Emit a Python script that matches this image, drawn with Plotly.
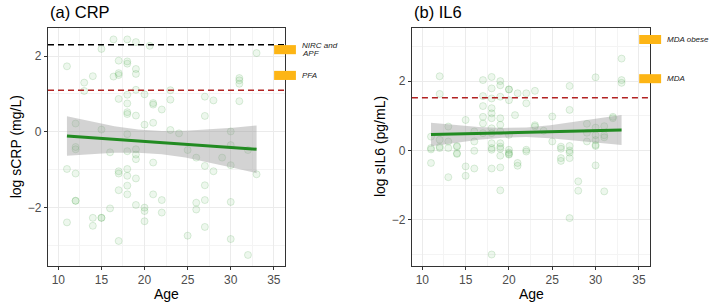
import plotly.graph_objects as go

# ---------------- data ----------------
crp_age = [11, 11, 11,
           12, 12, 12, 12, 12, 12,
           13, 13,
           14, 14, 14,
           15, 15, 15, 15,
           16, 16,
           16.4, 16.4,
           17, 17, 17, 17, 17, 17, 17, 17,
           18, 18, 18, 18, 18, 18, 18, 18, 18, 18, 18, 18, 18,
           19, 19, 19, 19, 19, 19, 19, 19, 19, 19,
           20, 20, 20, 20, 20,
           20.6,
           21, 21, 21, 21, 21,
           22, 22, 22,
           23, 23, 23,
           24,
           25, 25,
           26, 26, 26,
           27, 27, 27, 27, 27, 27,
           28, 28,
           29,
           30, 30, 30, 30, 30,
           31, 31, 31, 31,
           32, 32,
           33, 33]
crp_val = [1.73, -0.98, -2.39,
           0.22, -0.40, -0.46, -1.10, -1.82, -1.82,
           1.30, 1.08,
           1.47, -2.27, -2.48,
           2.19, 0.06, -2.27, -2.27,
           -0.54, -2.02,
           2.44, 1.46,
           1.88, 1.55, 1.50, 0.87, -1.04, -1.10, -1.54, -2.88,
           2.44, 1.86, 1.80, 0.98, 0.75, 0.52, 0.47, -0.06, -0.51, -0.98, -1.16, -1.42, -1.65,
           2.37, 1.66, 1.53, 1.11, 0.43, -0.46, -0.60, -0.72, -1.23, -1.93,
           0.99, 0.19, -2.00, -2.09, -2.36,
           2.27,
           0.76, 0.72, 0.24, -0.81, -1.65,
           0.59, -1.80, -2.13,
           1.10, 0.85, 0.05,
           -0.04,
           -0.48, -2.74,
           -0.68, -1.87, -2.05,
           0.93, 0.42, -0.90, -1.41, -1.80, -2.51,
           0.83, -1.04,
           -0.68,
           0.01, -0.35, -0.88, -1.85, -2.83,
           1.42, 1.36, 1.27, 0.81,
           -0.48, -3.25,
           2.08, -1.12]

il6_age = [11, 11, 11, 11,
           12, 12, 12, 12, 12,
           13, 13, 13, 13,
           14, 14, 14, 14,
           15, 15, 15,
           16, 16, 16, 16,
           17, 17, 17, 17, 17, 17,
           18, 18, 18, 18, 18, 18, 18, 18, 18, 18, 18, 18, 18,
           19, 19, 19, 19, 19, 19, 19, 19, 19, 19, 19, 19,
           20, 20, 20, 20, 20, 20, 20, 20,
           20.7,
           21, 21, 21,
           22, 22, 22, 22,
           23, 23, 23,
           24,
           25, 25,
           26, 26, 26, 26,
           27, 27, 27, 27, 27, 27, 27,
           28, 28,
           29, 29, 29,
           30, 30, 30, 30, 30, 30, 30,
           31, 31, 31, 31,
           32, 32,
           33, 33, 33]
il6_val = [0.40, 0.07, 0.03, -0.36,
           2.14, 1.63, 0.31, 0.11, 0.07,
           0.69, 0.26, 0.07, -0.77,
           0.11, 0.13, -0.08, -0.10,
           0.88, -0.46, -0.73,
           0.55, 0.26, -0.01, -0.52,
           2.03, 1.57, 1.28, 0.97, 0.78, 0.50,
           2.12, 1.79, 1.50, 1.22, 1.07, 0.93, 0.64, 0.50, 0.21, 0.07, 0.02, -0.52, -3.00,
           2.00, 1.88, 1.55, 0.93, 0.74, 0.55, 0.21, 0.11, 0.05, -0.15, -0.49, -1.15,
           1.76, 1.76, 1.45, 0.45, 0.02, -0.06, -0.10, -0.12,
           1.02,
           1.65, -0.36, -0.44,
           1.65, 1.36, -0.03, 0.02,
           1.72, 0.73, 0.69,
           0.57,
           0.98, 0.26,
           0.11, 0.05, -0.22, -0.30,
           1.86, 1.17, 0.13, 0.00, -0.06, -0.22, -1.95,
           -0.89, -1.16,
           0.77, 0.51, 0.26,
           2.11, 0.66, 0.44, 0.30, 0.16, 0.13, -0.43,
           0.70, 0.44, 0.38, -1.18,
           0.97, 0.93,
           2.65, 2.03, 1.95]

# linear fit and confidence band
fit_age = [11, 13.75, 16.5, 19.25, 22, 24.75, 27.5, 30.25, 33]
crp_fit = [-0.11, -0.154, -0.197, -0.241, -0.285, -0.329, -0.372, -0.416, -0.46]
crp_upper = [0.41, 0.27, 0.15, 0.06, 0.02, 0.03, 0.06, 0.11, 0.17]
crp_lower = [-0.63, -0.58, -0.55, -0.55, -0.59, -0.68, -0.81, -0.95, -1.09]
il6_fit = [0.46, 0.476, 0.493, 0.509, 0.525, 0.541, 0.558, 0.574, 0.59]
il6_upper = [0.80, 0.74, 0.68, 0.65, 0.66, 0.73, 0.82, 0.92, 1.02]
il6_lower = [0.12, 0.22, 0.31, 0.37, 0.39, 0.35, 0.29, 0.23, 0.16]

# reference lines
crp_black_line = 2.30
crp_red_line = 1.10
il6_red_line = 1.52

# reference labels (orange markers at right)
crp_ref_labels = [["NIRC and", "APF"], ["PFA"]]
crp_ref_y = [2.17, 1.49]
il6_ref_labels = [["MDA obese"], ["MDA"]]
il6_ref_y = [3.20, 2.07]

x_ticks = [10, 15, 20, 25, 30, 35]
y_ticks = [-2, 0, 2]

# ---------------- style ----------------
FONT = "Liberation Sans, Arial, sans-serif"
PT_FILL = "rgba(60,165,60,0.09)"
PT_LINE = "rgba(60,155,60,0.17)"
FIT_COL = "#228B22"
RIB_COL = "rgba(150,150,150,0.42)"
ORANGE = "#FDB515"
RED = "#B22222"

fig = go.Figure()

panels = [
    ("x", "y", crp_age, crp_val, crp_fit, crp_upper, crp_lower),
    ("x2", "y2", il6_age, il6_val, il6_fit, il6_upper, il6_lower),
]
for xa, ya, ages, vals, fit, up, lo in panels:
    fig.add_trace(go.Scatter(x=ages, y=vals, xaxis=xa, yaxis=ya, mode="markers",
                             marker=dict(size=7, color=PT_FILL, line=dict(color=PT_LINE, width=1)),
                             showlegend=False, hoverinfo="skip"))
    fig.add_trace(go.Scatter(x=fit_age, y=lo, xaxis=xa, yaxis=ya, mode="lines",
                             line=dict(width=0, color=RIB_COL), showlegend=False, hoverinfo="skip"))
    fig.add_trace(go.Scatter(x=fit_age, y=up, xaxis=xa, yaxis=ya, mode="lines",
                             line=dict(width=0, color=RIB_COL), fill="tonexty", fillcolor=RIB_COL,
                             showlegend=False, hoverinfo="skip"))
    fig.add_trace(go.Scatter(x=fit_age, y=fit, xaxis=xa, yaxis=ya, mode="lines",
                             line=dict(width=3, color=FIT_COL), showlegend=False, hoverinfo="skip"))

# dashed reference lines
def hline(xa, ya, yv, color):
    fig.add_shape(type="line", xref=f"{xa} domain", yref=ya, x0=0, x1=1, y0=yv, y1=yv,
                  line=dict(color=color, width=1.5, dash="6px,4px"))

hline("x", "y", crp_black_line, "black")
hline("x", "y", crp_red_line, RED)
hline("x2", "y2", il6_red_line, RED)

# orange reference boxes and their labels
def refboxes(xa, ya, labels, ys, half_h):
    for lines, yv in zip(labels, ys):
        fig.add_shape(type="rect", xref=f"{xa} domain", yref=ya, x0=0.954, x1=1.046,
                      y0=yv - half_h, y1=yv + half_h, fillcolor=ORANGE, line=dict(width=0),
                      layer="above")
        n = len(lines)
        for i, lab in enumerate(lines):
            shift = (n - 1) * 4 - i * 8
            fig.add_annotation(xref=f"{xa} domain", yref=ya, x=1.062, y=yv, yshift=shift,
                               text=f"<i>{lab}</i>", showarrow=False, xanchor="left",
                               yanchor="middle", font=dict(size=8, color="#222222", family=FONT))

refboxes("x", "y", crp_ref_labels, crp_ref_y, 0.12)
refboxes("x2", "y2", il6_ref_labels, il6_ref_y, 0.13)

axis_common = dict(showline=True, mirror=True, linecolor="#333333", linewidth=1.2,
                   ticks="outside", ticklen=3, tickcolor="#333333", tickwidth=1,
                   showgrid=True, gridcolor="#EBEBEB", gridwidth=1, zeroline=False,
                   tickfont=dict(size=12, color="#4D4D4D", family=FONT))

xmin, xmax = 8.8, 36.3
fig.update_layout(
    width=709, height=305, margin=dict(l=0, r=0, t=0, b=0),
    paper_bgcolor="white", plot_bgcolor="white", showlegend=False,
    xaxis=dict(domain=[0.0677, 0.402], range=[xmin, xmax], tickvals=x_ticks, anchor="y",
               minor=dict(dtick=2.5, tick0=10, showgrid=True, gridcolor="#F4F4F4", gridwidth=0.6, ticks=""),
               **axis_common),
    yaxis=dict(domain=[0.128, 0.908], range=[-3.54, 2.74], tickvals=y_ticks, anchor="x",
               minor=dict(dtick=1, tick0=0, showgrid=True, gridcolor="#F4F4F4", gridwidth=0.6, ticks=""),
               **axis_common),
    xaxis2=dict(domain=[0.581, 0.917], range=[xmin, xmax], tickvals=x_ticks, anchor="y2",
                minor=dict(dtick=2.5, tick0=10, showgrid=True, gridcolor="#F4F4F4", gridwidth=0.6, ticks=""),
                **axis_common),
    yaxis2=dict(domain=[0.128, 0.908], range=[-3.33, 3.53], tickvals=y_ticks, anchor="x2",
                minor=dict(dtick=1, tick0=0, showgrid=True, gridcolor="#F4F4F4", gridwidth=0.6, ticks=""),
                **axis_common),
)

# titles
def txt(x, y, s, size, xanchor="center", yanchor="middle", angle=0):
    fig.add_annotation(xref="paper", yref="paper", x=x, y=y, text=s, showarrow=False,
                       xanchor=xanchor, yanchor=yanchor, textangle=angle,
                       font=dict(size=size, color="black", family=FONT))

txt(0.0677, 0.962, "(a) CRP", 16.5, xanchor="left")
txt(0.581, 0.962, "(b) IL6", 16.5, xanchor="left")
txt(0.235, 0.036, "Age", 14)
txt(0.749, 0.036, "Age", 14)
txt(0.023, 0.518, "log sCRP (mg/L)", 14, angle=-90)
txt(0.536, 0.518, "log sIL6 (pg/mL)", 14, angle=-90)

fig.write_html("out.html")
